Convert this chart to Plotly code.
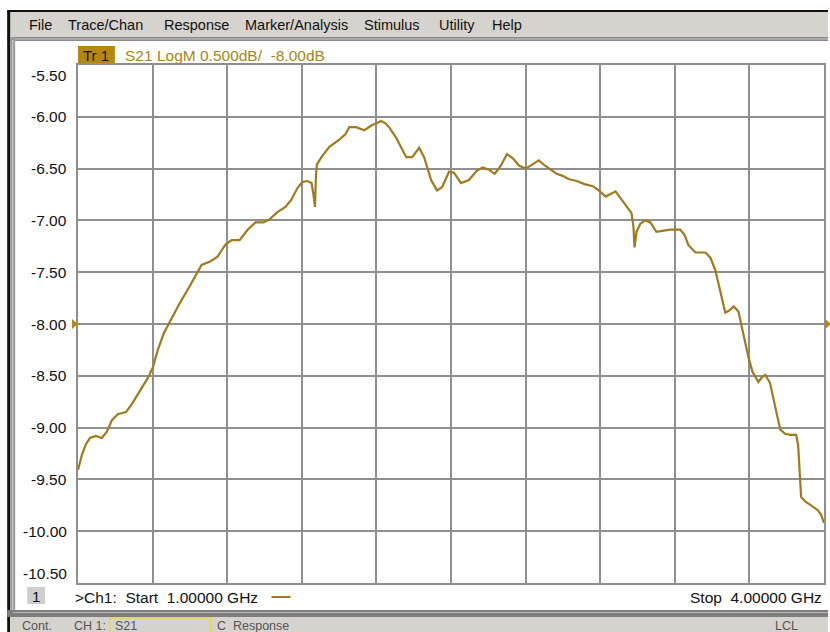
import plotly.graph_objects as go

# ---- data (frequency in GHz, S21 in dB) ----
freq_ghz = [1.000, 1.016, 1.032, 1.048, 1.072, 1.096, 1.116, 1.136, 1.160, 1.193, 1.217, 1.249,
            1.281, 1.301, 1.321, 1.345, 1.377, 1.409, 1.441, 1.473, 1.497, 1.529, 1.561, 1.594,
            1.618, 1.650, 1.682, 1.714, 1.746, 1.770, 1.802, 1.834, 1.858, 1.882, 1.902, 1.922,
            1.939, 1.947, 1.953, 1.957, 1.961, 1.979, 2.011, 2.051, 2.075, 2.091, 2.119, 2.151,
            2.183, 2.203, 2.219, 2.235, 2.251, 2.279, 2.299, 2.320, 2.344, 2.372, 2.392, 2.404,
            2.420, 2.444, 2.464, 2.492, 2.512, 2.540, 2.572, 2.604, 2.628, 2.652, 2.676, 2.701,
            2.725, 2.749, 2.773, 2.801, 2.829, 2.853, 2.877, 2.901, 2.925, 2.949, 2.973, 3.005,
            3.037, 3.070, 3.094, 3.122, 3.162, 3.186, 3.214, 3.226, 3.234, 3.238, 3.246, 3.262,
            3.281, 3.302, 3.326, 3.350, 3.382, 3.422, 3.439, 3.455, 3.483, 3.523, 3.543, 3.563,
            3.583, 3.603, 3.619, 3.637, 3.656, 3.676, 3.696, 3.712, 3.736, 3.752, 3.764, 3.783,
            3.803, 3.824, 3.844, 3.864, 3.888, 3.896, 3.908, 3.928, 3.948, 3.976, 3.988, 4.000]
s21_db = [-9.41, -9.26, -9.16, -9.10, -9.08, -9.10, -9.04, -8.93, -8.87, -8.85, -8.77, -8.64,
          -8.52, -8.42, -8.25, -8.09, -7.94, -7.80, -7.67, -7.53, -7.43, -7.40, -7.35, -7.23,
          -7.19, -7.19, -7.09, -7.02, -7.02, -6.99, -6.92, -6.87, -6.80, -6.69, -6.63, -6.62,
          -6.64, -6.75, -6.87, -6.56, -6.46, -6.39, -6.29, -6.22, -6.17, -6.10, -6.10, -6.13,
          -6.08, -6.06, -6.04, -6.06, -6.10, -6.20, -6.30, -6.39, -6.39, -6.30, -6.39, -6.48,
          -6.61, -6.71, -6.68, -6.53, -6.54, -6.64, -6.61, -6.52, -6.49, -6.51, -6.55, -6.47,
          -6.36, -6.40, -6.47, -6.50, -6.46, -6.42, -6.47, -6.51, -6.55, -6.57, -6.60, -6.62,
          -6.65, -6.67, -6.71, -6.77, -6.72, -6.80, -6.89, -6.93, -7.07, -7.26, -7.11, -7.03,
          -7.00, -7.02, -7.11, -7.10, -7.09, -7.09, -7.14, -7.24, -7.31, -7.31, -7.36, -7.48,
          -7.69, -7.89, -7.87, -7.83, -7.88, -8.11, -8.32, -8.46, -8.56, -8.51, -8.49, -8.57,
          -8.78, -9.02, -9.06, -9.07, -9.07, -9.17, -9.67, -9.72, -9.75, -9.80, -9.84, -9.92]

y_tick_values = [-5.5, -6.0, -6.5, -7.0, -7.5, -8.0, -8.5, -9.0, -9.5, -10.0, -10.5]
y_tick_labels = ["-5.50", "-6.00", "-6.50", "-7.00", "-7.50", "-8.00", "-8.50", "-9.00",
                 "-9.50", "-10.00", "-10.50"]
menu_items = ["File", "Trace/Chan", "Response", "Marker/Analysis", "Stimulus", "Utility", "Help"]
trace_title = "S21 LogM 0.500dB/\u00a0\u00a0-8.00dB"
start_label = ">Ch1:\u00a0\u00a0Start\u00a0\u00a01.00000 GHz"
stop_label = "Stop\u00a0\u00a04.00000 GHz"
ref_level = -8.0
f_start, f_stop = 1.0, 4.0
y_min, y_max = -10.5, -5.5

# ---- geometry helpers (pixel -> paper) ----
W, H = 830, 632
L, R, T, B = 78, 826, 65, 583


def px(x):
    return (x - L) / (R - L)


def py(y):
    return (B - y) / (B - T)


TRACE = "#a07a1c"
GRID = "#8f8f8f"
FONT = "Liberation Sans"

fig = go.Figure()
fig.add_trace(go.Scatter(x=freq_ghz, y=s21_db, mode="lines",
                         line=dict(color=TRACE, width=2.2), hoverinfo="skip",
                         showlegend=False))

shapes = []
ann = []

# window chrome
shapes.append(dict(type="rect", xref="paper", yref="paper", x0=px(7), x1=px(830), y0=py(11), y1=py(37),
                   fillcolor="#d6d3ce", line=dict(width=0), layer="below"))
shapes.append(dict(type="line", xref="paper", yref="paper", x0=px(7), x1=px(830), y0=py(11), y1=py(11),
                   line=dict(color="#111111", width=2)))
shapes.append(dict(type="rect", xref="paper", yref="paper", x0=px(7), x1=px(830), y0=py(37), y1=py(41),
                   fillcolor="#8a8a8a", line=dict(width=0)))
shapes.append(dict(type="line", xref="paper", yref="paper", x0=px(13), x1=px(830), y0=py(39), y1=py(39),
                   line=dict(color="#c8c8c8", width=1)))
# left border
shapes.append(dict(type="rect", xref="paper", yref="paper", x0=px(7), x1=px(10), y0=py(11), y1=py(632),
                   fillcolor="#111111", line=dict(width=0)))
shapes.append(dict(type="rect", xref="paper", yref="paper", x0=px(10), x1=px(15), y0=py(37), y1=py(616),
                   fillcolor="#9a9a9a", line=dict(width=0)))
shapes.append(dict(type="line", xref="paper", yref="paper", x0=px(12.5), x1=px(12.5), y0=py(40), y1=py(612),
                   line=dict(color="#d0d0d0", width=1)))
# bottom status bar
shapes.append(dict(type="rect", xref="paper", yref="paper", x0=px(7), x1=px(830), y0=py(610), y1=py(617),
                   fillcolor="#7d7d7d", line=dict(width=0)))
shapes.append(dict(type="line", xref="paper", yref="paper", x0=px(13), x1=px(830), y0=py(612.5), y1=py(612.5),
                   line=dict(color="#b5b5b5", width=1)))
shapes.append(dict(type="rect", xref="paper", yref="paper", x0=px(10), x1=px(830), y0=py(617), y1=py(632),
                   fillcolor="#d6d3ce", line=dict(width=0)))
shapes.append(dict(type="rect", xref="paper", yref="paper", x0=px(110), x1=px(211), y0=py(618), y1=py(633),
                   fillcolor="rgba(0,0,0,0)", line=dict(color="#e8d84a", width=1.5)))

# Tr 1 box
shapes.append(dict(type="rect", xref="paper", yref="paper", x0=px(78), x1=px(115), y0=py(46), y1=py(63),
                   fillcolor="#b5870e", line=dict(width=0)))
# channel number box
shapes.append(dict(type="rect", xref="paper", yref="paper", x0=px(27), x1=px(45), y0=py(587), y1=py(604),
                   fillcolor="#cfcfcf", line=dict(width=0)))
# trace colour key
shapes.append(dict(type="line", xref="paper", yref="paper", x0=px(272), x1=px(291), y0=py(597), y1=py(597),
                   line=dict(color=TRACE, width=2)))
# reference level markers
ry = py(T + (y_max - ref_level) / (y_max - y_min) * (B - T))
shapes.append(dict(type="path", xref="paper", yref="paper",
                   path=f"M {px(72)},{ry + 5/518} L {px(78)},{ry} L {px(72)},{ry - 5/518} Z",
                   fillcolor="#b5870e", line=dict(width=0)))
shapes.append(dict(type="path", xref="paper", yref="paper",
                   path=f"M {px(827)},{ry + 5/518} L {px(833)},{ry} L {px(827)},{ry - 5/518} Z",
                   fillcolor="#b5870e", line=dict(width=0)))

# menu items
menu_x = [27, 66, 162, 243, 363, 438, 491]
for name, x in zip(menu_items, menu_x):
    ann.append(dict(text=name, x=px(x), y=py(25), xref="paper", yref="paper", xanchor="left",
                    yanchor="middle", showarrow=False, font=dict(family=FONT, size=14.5, color="#111111")))

ann.append(dict(text="Tr 1", x=px(96.5), y=py(55), xref="paper", yref="paper", xanchor="center",
                yanchor="middle", showarrow=False, font=dict(family=FONT, size=15, color="#111111")))
ann.append(dict(text=trace_title, x=px(123), y=py(55), xref="paper", yref="paper", xanchor="left",
                yanchor="middle", showarrow=False, font=dict(family=FONT, size=15.5, color="#a88418")))

# y tick labels (top & bottom labels shifted inward as on the instrument)
for v, lab in zip(y_tick_values, y_tick_labels):
    ypix = T + (y_max - v) / (y_max - y_min) * (B - T)
    if v == y_max:
        ypix += 11
    elif v == y_min:
        ypix -= 10
    ann.append(dict(text=lab, x=px(69), y=py(ypix), xref="paper", yref="paper", xanchor="right",
                    yanchor="middle", showarrow=False, font=dict(family=FONT, size=15.5, color="#111111")))

ann.append(dict(text="1", x=px(36), y=py(596), xref="paper", yref="paper", xanchor="center",
                yanchor="middle", showarrow=False, font=dict(family=FONT, size=15, color="#111111")))
ann.append(dict(text=start_label, x=px(73), y=py(597), xref="paper", yref="paper", xanchor="left",
                yanchor="middle", showarrow=False, font=dict(family=FONT, size=15.5, color="#111111")))
ann.append(dict(text=stop_label, x=px(826), y=py(597), xref="paper", yref="paper", xanchor="right",
                yanchor="middle", showarrow=False, font=dict(family=FONT, size=15.5, color="#111111")))

status = [("Cont.", 20), ("CH 1:", 72), ("S21", 113), ("C\u00a0\u00a0Response", 215), ("LCL", 775)]
for t, x in status:
    ann.append(dict(text=t, x=px(x), y=py(626), xref="paper", yref="paper", xanchor="left",
                    yanchor="middle", showarrow=False, font=dict(family=FONT, size=12.5, color="#555555")))

fig.update_layout(
    width=W, height=H,
    margin=dict(l=L, r=W - R, t=T, b=H - B, pad=0),
    paper_bgcolor="white", plot_bgcolor="white",
    xaxis=dict(range=[f_start, f_stop], dtick=(f_stop - f_start) / 10, tick0=f_start,
               showticklabels=False, ticks="", showgrid=True, gridcolor=GRID, gridwidth=1.5,
               zeroline=False, showline=True, linecolor=GRID, linewidth=1.5, mirror=True,
               fixedrange=True),
    yaxis=dict(range=[y_min, y_max], dtick=0.5, tick0=y_min, showticklabels=False, ticks="",
               showgrid=True, gridcolor=GRID, gridwidth=1.5, zeroline=False, showline=True,
               linecolor=GRID, linewidth=1.5, mirror=True, fixedrange=True),
    shapes=shapes, annotations=ann, showlegend=False,
)

fig.write_html("out.html", config={"displayModeBar": False},
               post_script="document.body.style.margin='0';document.body.style.overflow='hidden';")
